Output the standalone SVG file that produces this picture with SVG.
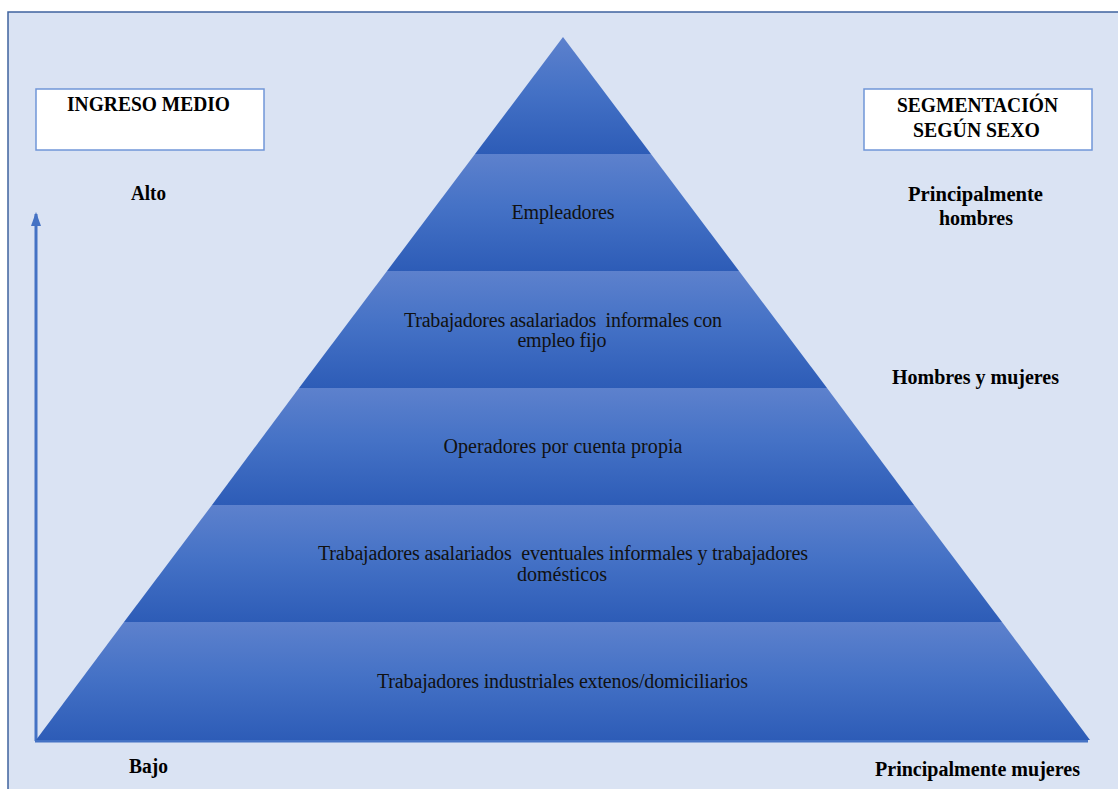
<svg xmlns="http://www.w3.org/2000/svg" width="1118" height="789" viewBox="0 0 1118 789">
  <defs>
    <linearGradient id="band" x1="0" y1="0" x2="0" y2="1">
      <stop offset="0" stop-color="#5d81cd"/>
      <stop offset="0.45" stop-color="#4572c6"/>
      <stop offset="1" stop-color="#2d5cb7"/>
    </linearGradient>
    <marker id="arrow" viewBox="0 0 14 10" refX="12" refY="5" markerWidth="14" markerHeight="10" markerUnits="userSpaceOnUse" orient="auto">
      <path d="M0,0 L14,5 L0,10 Z" fill="#4472c4"/>
    </marker>
    <style>
      .band { fill: url(#band); }
      .lbl { font-size: 20px; fill: #111; text-anchor: middle; }
      .bold { font-size: 20px; font-weight: bold; fill: #000; text-anchor: middle; }
      .box { fill: #ffffff; stroke: #7096d8; stroke-width: 1.5; }
      .axis { stroke: #4472c4; stroke-width: 3; fill: none; }
    </style>
  </defs>

  <rect x="0" y="0" width="1118" height="789" fill="#ffffff"/>
  <rect x="8" y="12" width="1120" height="800" fill="#dae3f3" stroke="#3f639f" stroke-width="1.5"/>

  <g id="connectors">
    <line class="axis" x1="36" y1="741" x2="36" y2="214" marker-end="url(#arrow)"/>
    <line class="axis" x1="35" y1="741" x2="1088" y2="741" stroke-width="2"/>
  </g>

  <g id="level-top">
    <polygon class="band" points="563,37 651,154 475,154"/>
  </g>
  <g id="level-empleadores">
    <polygon class="band" points="475,154 651,154 739,271 387,271"/>
    <text class="lbl" font-family="Liberation Serif, serif" x="563" y="219" textLength="103" lengthAdjust="spacing">Empleadores</text>
  </g>
  <g id="level-asalariados-fijo">
    <polygon class="band" points="387,271 739,271 827,388 299,388"/>
    <text class="lbl" font-family="Liberation Serif, serif" x="563" y="327" textLength="318" lengthAdjust="spacing" xml:space="preserve">Trabajadores asalariados  informales con</text>
    <text class="lbl" font-family="Liberation Serif, serif" x="562" y="347" textLength="89" lengthAdjust="spacing">empleo fijo</text>
  </g>
  <g id="level-cuenta-propia">
    <polygon class="band" points="299,388 827,388 914,505 212,505"/>
    <text class="lbl" font-family="Liberation Serif, serif" x="563" y="453" textLength="239" lengthAdjust="spacing">Operadores por cuenta propia</text>
  </g>
  <g id="level-eventuales">
    <polygon class="band" points="212,505 914,505 1002,622 124,622"/>
    <text class="lbl" font-family="Liberation Serif, serif" x="563" y="560" textLength="490" lengthAdjust="spacing" xml:space="preserve">Trabajadores asalariados  eventuales informales y trabajadores</text>
    <text class="lbl" font-family="Liberation Serif, serif" x="562" y="581" textLength="90" lengthAdjust="spacing">domésticos</text>
  </g>
  <g id="level-industriales">
    <polygon class="band" points="124,622 1002,622 1090,740 36,740"/>
    <text class="lbl" font-family="Liberation Serif, serif" x="562.5" y="688" textLength="371" lengthAdjust="spacing">Trabajadores industriales extenos/domiciliarios</text>
  </g>

  <g id="box-ingreso">
    <rect class="box" x="36" y="89" width="228" height="61"/>
    <text class="bold" font-family="Liberation Serif, serif" x="148.5" y="111" textLength="163" lengthAdjust="spacingAndGlyphs">INGRESO MEDIO</text>
  </g>
  <g id="box-segmentacion">
    <rect class="box" x="864" y="89" width="228" height="61"/>
    <text class="bold" font-family="Liberation Serif, serif" x="977.5" y="112" textLength="161" lengthAdjust="spacingAndGlyphs">SEGMENTACIÓN</text>
    <text class="bold" font-family="Liberation Serif, serif" x="976.5" y="137" textLength="127" lengthAdjust="spacingAndGlyphs">SEGÚN SEXO</text>
  </g>

  <g id="label-alto">
    <text class="bold" font-family="Liberation Serif, serif" x="148.5" y="200" textLength="35" lengthAdjust="spacingAndGlyphs">Alto</text>
  </g>
  <g id="label-bajo">
    <text class="bold" font-family="Liberation Serif, serif" x="148.5" y="773" textLength="39" lengthAdjust="spacingAndGlyphs">Bajo</text>
  </g>
  <g id="label-hombres">
    <text class="bold" font-family="Liberation Serif, serif" x="975.5" y="201" textLength="135" lengthAdjust="spacingAndGlyphs">Principalmente</text>
    <text class="bold" font-family="Liberation Serif, serif" x="976" y="225" textLength="74" lengthAdjust="spacingAndGlyphs">hombres</text>
  </g>
  <g id="label-mixto">
    <text class="bold" font-family="Liberation Serif, serif" x="975.5" y="384" textLength="167" lengthAdjust="spacingAndGlyphs">Hombres y mujeres</text>
  </g>
  <g id="label-mujeres">
    <text class="bold" font-family="Liberation Serif, serif" x="977.5" y="776" textLength="205" lengthAdjust="spacingAndGlyphs">Principalmente mujeres</text>
  </g>
</svg>
